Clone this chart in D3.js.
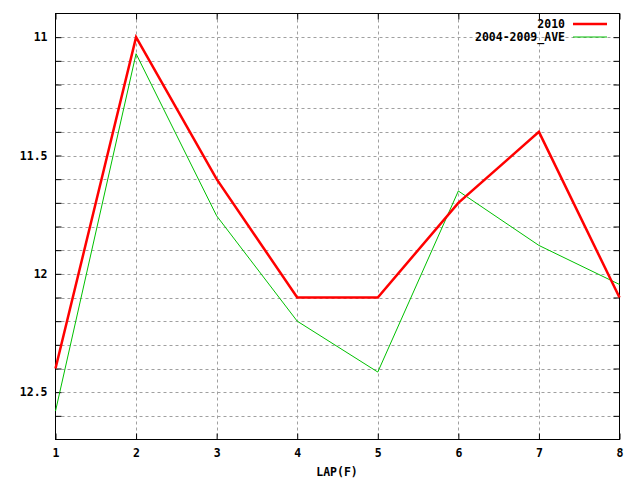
<!DOCTYPE html>
<html><head><meta charset="utf-8">
<script src="https://cdn.jsdelivr.net/npm/d3@7"></script>
<style>body{margin:0;background:#fff}svg{display:block}text{font-family:"DejaVu Sans Mono",monospace;font-weight:bold;font-size:11.5px;fill:#000}</style>
</head><body><svg id="c" width="640" height="480"></svg>
<script>
const laps = [1,2,3,4,5,6,7,8];
const s2010 = [12.4,11.0,11.6,12.1,12.1,11.7,11.4,12.1];
const sAve = [12.58,11.07,11.755,12.2,12.415,11.65,11.88,12.045];
const yMajor = [11,11.5,12,12.5];
const seriesNames = ["2010","2004-2009_AVE"];
const colors = ["#ff0000","#00c000"];

const svg = d3.select("#c");
const L=55.5,R=619.5,T=13.5,B=439.5;
const x = d3.scaleLinear().domain([1,8]).range([L,R]);
const y = d3.scaleLinear().domain([10.9,12.7]).range([T,B]);
const yMinor = d3.range(11,12.65,0.1).map(v=>+v.toFixed(1));

const g = svg.append("g");
// grid
g.selectAll(".gy").data(yMinor).join("line")
 .attr("x1",L).attr("x2",R).attr("y1",d=>Math.round(y(d))+0.5).attr("y2",d=>Math.round(y(d))+0.5)
 .attr("stroke","#a0a0a0").attr("stroke-dasharray","3,3");
g.selectAll(".gx").data(laps.slice(1,-1)).join("line")
 .attr("y1",T).attr("y2",B).attr("x1",d=>Math.round(x(d))+0.5).attr("x2",d=>Math.round(x(d))+0.5)
 .attr("stroke","#a0a0a0").attr("stroke-dasharray","3,3");

// axes
const ax = d3.axisBottom(x).tickValues(laps).tickFormat(d3.format("d")).tickSize(-6).tickPadding(9);
const axT = d3.axisTop(x).tickValues(laps).tickFormat("").tickSize(-6);
const ay = d3.axisLeft(y).tickValues(yMinor).tickSize(-6).tickPadding(8)
  .tickFormat(d=>yMajor.includes(d)?d3.format("")(d):"");
const ayR = d3.axisRight(y).tickValues(yMinor).tickSize(-6).tickFormat("");
function style(sel){sel.select(".domain").remove();sel.selectAll("line").attr("stroke","#000");sel.selectAll("text").attr("fill","#000").style("font-size","11.5px").style("font-family","DejaVu Sans Mono").style("font-weight","bold");}
svg.append("g").attr("transform",`translate(0,${B})`).call(ax).call(style);
svg.append("g").attr("transform",`translate(0,${T})`).call(axT).call(style);
svg.append("g").attr("transform",`translate(${L},0)`).call(ay).call(style);
svg.append("g").attr("transform",`translate(${R},0)`).call(ayR).call(style);
svg.append("rect").attr("x",L).attr("y",T).attr("width",R-L).attr("height",B-T).attr("fill","none").attr("stroke","#000");

// lines
const line = d3.line().x((d,i)=>x(laps[i])).y(d=>y(d));
svg.append("path").datum(sAve).attr("d",line).attr("fill","none").attr("stroke",colors[1]).attr("stroke-width",1);
svg.append("path").datum(s2010).attr("d",line).attr("fill","none").attr("stroke",colors[0]).attr("stroke-width",2.5);

// legend
seriesNames.forEach((n,i)=>{
  const yy = 24 + i*13;
  svg.append("text").attr("x",565).attr("y",yy).attr("dy","0.35em").attr("text-anchor","end").text(n);
  svg.append("line").attr("x1",573).attr("x2",607).attr("y1",yy).attr("y2",yy).attr("stroke",colors[i]).attr("stroke-width",i==0?2.5:1);
});

svg.append("text").attr("x",337).attr("y",476).attr("text-anchor","middle").text("LAP(F)");
</script></body></html>
